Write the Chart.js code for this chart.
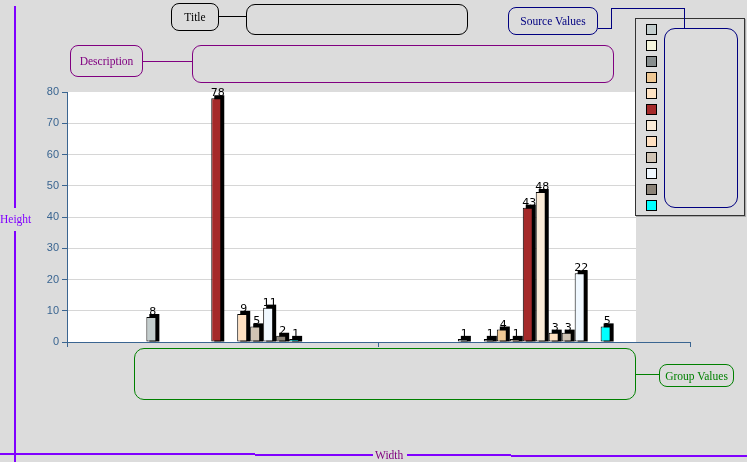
<!DOCTYPE html>
<html>
<head>
<meta charset="utf-8">
<script src="https://cdn.jsdelivr.net/npm/chart.js@4/dist/chart.umd.min.js"></script>
<style>
  html, body { margin: 0; padding: 0; background: #DCDCDC; }
  #wrap { position: relative; width: 747px; height: 462px; overflow: hidden; background: #DCDCDC; }
  #c { position: absolute; left: 0; top: 0; }
  .box { position: absolute; box-sizing: border-box; border: 1px solid; border-radius: 8px;
         font-family: "Liberation Serif", "DejaVu Serif", serif; font-size: 11.5px;
         display: flex; align-items: center; justify-content: center; background: transparent; }
  .ln { position: absolute; }
  .txt { position: absolute; font-family: "Liberation Serif", "DejaVu Serif", serif; font-size: 11.5px; line-height: 12px; }
  #legend { position: absolute; left: 635px; top: 18px; width: 110px; height: 198px; box-sizing: border-box;
            border: 1px solid #333; background: #DCDCDC; box-shadow: 1px 1px 0 #aaa; }
  .sw { position: absolute; width: 11px; height: 11px; box-sizing: border-box; border: 1px solid #000; }
</style>
</head>
<body>
<div id="wrap">
  <canvas id="c" width="747" height="462"></canvas>

  <!-- Title -->
  <div class="box" style="left:171px;top:3px;width:48px;height:28px;border-color:#000;color:#000;">Title</div>
  <div class="ln" style="left:219px;top:16px;width:27px;height:1px;background:#000;"></div>
  <div class="box" style="left:246px;top:4px;width:222px;height:31px;border-color:#000;border-radius:9px;"></div>

  <!-- Description -->
  <div class="box" style="left:70px;top:45px;width:73px;height:32px;border-color:#800080;color:#800080;">Description</div>
  <div class="ln" style="left:143px;top:61px;width:49px;height:1px;background:#800080;"></div>
  <div class="box" style="left:192px;top:45px;width:422px;height:38px;border-color:#800080;border-radius:9px;"></div>

  <!-- Source Values -->
  <div class="box" style="left:508px;top:7px;width:90px;height:28px;border-color:#000080;color:#000080;">Source Values</div>
  <div class="ln" style="left:598px;top:28px;width:13px;height:1px;background:#000080;"></div>
  <div class="ln" style="left:611px;top:8px;width:1px;height:21px;background:#000080;"></div>
  <div class="ln" style="left:611px;top:8px;width:74px;height:1px;background:#000080;"></div>

  <!-- Legend -->
  <div id="legend"></div>
  <div class="ln" style="left:684px;top:8px;width:1px;height:21px;background:#000080;"></div>
  <div class="box" style="left:664px;top:28px;width:74px;height:180px;border-color:#000080;border-radius:11px;"></div>

  <!-- Group Values -->
  <div class="box" style="left:134px;top:348px;width:502px;height:52px;border-color:#008000;border-radius:10px;"></div>
  <div class="ln" style="left:636px;top:374px;width:23px;height:1px;background:#008000;"></div>
  <div class="box" style="left:659px;top:364px;width:75px;height:23px;border-color:#008000;color:#008000;">Group Values</div>

  <!-- Height -->
  <div class="ln" style="left:14px;top:6px;width:2px;height:202px;background:#8000FF;"></div>
  <div class="ln" style="left:14px;top:231px;width:2px;height:231px;background:#8000FF;"></div>
  <div class="txt" style="left:0px;top:213px;color:#8000FF;">Height</div>

  <!-- Width -->
  <div class="ln" style="left:0px;top:453px;width:255px;height:2px;background:#8000FF;"></div>
  <div class="ln" style="left:255px;top:454px;width:118px;height:2px;background:#8000FF;"></div>
  <div class="txt" style="left:375px;top:449px;color:#800080;">Width</div>
  <div class="ln" style="left:407px;top:454px;width:104px;height:2px;background:#8000FF;"></div>
  <div class="ln" style="left:511px;top:455px;width:236px;height:2px;background:#8000FF;"></div>
</div>

<script>
const categories = ['Group 1', 'Group 2'];
const seriesNames = ['Series 1','Series 2','Series 3','Series 4','Series 5','Series 6',
                     'Series 7','Series 8','Series 9','Series 10','Series 11','Series 12'];
const seriesColors = ['#C3CDCD','#F5F5DC','#878D8D','#EFC894','#FFE4C4','#A52A2A',
                      '#FAEBD7','#FFE0C0','#D0C3B3','#F0F8FF','#8B8378','#00FFFF'];
const group1Values = [8, 0, 0, 0, 0, 78, 0, 9, 5, 11, 2, 1];
const group2Values = [1, 0, 1, 4, 1, 43, 48, 3, 3, 22, 0, 5];
const yTickMin = 0, yTickMax = 80, yTickStep = 10;

const AXIS_COLOR = '#3A6591';
const PLOT_WHITE_RIGHT = 636;
const DEPTH = 3;

// legend swatches from series colours
const legendEl = document.getElementById('legend');
seriesColors.forEach((c, i) => {
  const s = document.createElement('div');
  s.className = 'sw';
  s.title = seriesNames[i];
  s.style.left = '10px';
  s.style.top = (5 + i * 16) + 'px';
  s.style.background = c;
  legendEl.appendChild(s);
});

const datasets = seriesNames.map((name, i) => ({
  label: name,
  data: [group1Values[i], group2Values[i]],
  backgroundColor: seriesColors[i],
  borderColor: '#000',
  borderWidth: (ctx) => (ctx.raw ? 1 : 0),
  borderSkipped: false,
  categoryPercentage: 0.5,
  barPercentage: 0.77
}));

const threeD = {
  id: 'threeD',
  beforeDraw(chart) {
    const { ctx, chartArea: a } = chart;
    ctx.save();
    ctx.fillStyle = '#FFFFFF';
    ctx.fillRect(a.left, a.top, PLOT_WHITE_RIGHT - a.left, a.bottom - a.top);
    ctx.restore();
  },
  beforeDatasetsDraw(chart) {
    const { ctx, chartArea: a } = chart;
    ctx.save();
    ctx.fillStyle = '#DCDCDC';
    ctx.fillRect(PLOT_WHITE_RIGHT, a.top - 1, a.right - PLOT_WHITE_RIGHT + 2, a.bottom - a.top);
    ctx.fillStyle = '#000';
    chart.data.datasets.forEach((ds, di) => {
      const meta = chart.getDatasetMeta(di);
      meta.data.forEach((el, j) => {
        if (!ds.data[j]) return;
        const p = el.getProps(['x', 'y', 'base', 'width'], true);
        const left = p.x - p.width / 2;
        ctx.fillRect(left + DEPTH, p.y - DEPTH, p.width, p.base - p.y + DEPTH);
      });
    });
    ctx.restore();
  },
  afterDatasetsDraw(chart) {
    const { ctx } = chart;
    ctx.save();
    ctx.fillStyle = '#000';
    ctx.font = '11px "DejaVu Sans", sans-serif';
    ctx.textAlign = 'center';
    ctx.textBaseline = 'alphabetic';
    chart.data.datasets.forEach((ds, di) => {
      const meta = chart.getDatasetMeta(di);
      meta.data.forEach((el, j) => {
        const v = ds.data[j];
        if (!v) return;
        const p = el.getProps(['x', 'y'], true);
        ctx.fillText(String(v), p.x + DEPTH / 2, p.y - DEPTH + 1);
      });
    });
    ctx.restore();
  }
};

new Chart(document.getElementById('c'), {
  type: 'bar',
  data: { labels: categories, datasets },
  plugins: [threeD],
  options: {
    responsive: false,
    animation: false,
    layout: { padding: { left: 0, right: 57, top: 92, bottom: 0 } },
    plugins: { legend: { display: false }, tooltip: { enabled: false } },
    scales: {
      x: {
        offset: true,
        grid: { offset: true, drawOnChartArea: false, drawTicks: true, tickLength: 5, tickColor: AXIS_COLOR },
        border: { color: AXIS_COLOR, width: 1 },
        ticks: { display: false },
        afterFit(s) { s.height = 120; }
      },
      y: {
        min: yTickMin, max: yTickMax,
        grid: {
          color: (ctx) => (ctx.tick && (ctx.tick.value === yTickMax || ctx.tick.value === yTickMin)) ? 'rgba(0,0,0,0)' : '#D6D6D6',
          tickColor: AXIS_COLOR, tickLength: 5, drawTicks: true
        },
        border: { color: AXIS_COLOR, width: 1 },
        ticks: {
          stepSize: yTickStep, color: AXIS_COLOR, padding: 3,
          font: { family: '"Liberation Sans", Arial, sans-serif', size: 11 }
        },
        afterFit(s) { s.width = 67; }
      }
    }
  }
});
</script>
</body>
</html>
